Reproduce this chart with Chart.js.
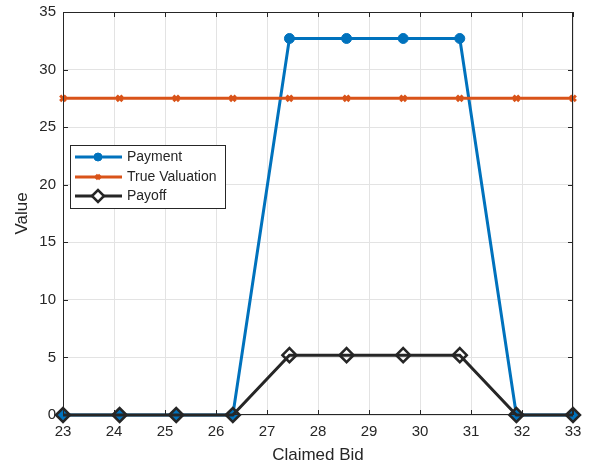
<!DOCTYPE html>
<html lang="en">
<head>
    <meta charset="UTF-8">
    <title>Claimed Bid vs Value</title>
    <script src="https://cdn.jsdelivr.net/npm/chart.js@4.4.0/dist/chart.umd.min.js"></script>
    <style>
        body {
            margin: 0;
            background: #ffffff;
        }
        #wrap {
            width: 592px;
            height: 468px;
        }
    </style>
</head>
<body>
    <div id="wrap">
        <canvas id="bidChart" width="592" height="468"></canvas>
    </div>
    <script>
        // data
        var bids = [23, 24.11, 25.22, 26.33, 27.44, 28.56, 29.67, 30.78, 31.89, 33];
        var payment = [0, 0, 0, 0, 32.7, 32.7, 32.7, 32.7, 0, 0];
        var valuation = [27.5, 27.5, 27.5, 27.5, 27.5, 27.5, 27.5, 27.5, 27.5, 27.5];
        var payoff = [0, 0, 0, 0, 5.2, 5.2, 5.2, 5.2, 0, 0];
        var xTicks = [23, 24, 25, 26, 27, 28, 29, 30, 31, 32, 33];
        var yTicks = [0, 5, 10, 15, 20, 25, 30, 35];

        var axisColor = '#262626';
        var fontFamily = '"Liberation Sans", Arial, sans-serif';

        function pts(ys) {
            return bids.map(function (b, i) { return { x: b, y: ys[i] }; });
        }

        // box around the axes, inward ticks, and the legend
        var matlabBox = {
            id: 'matlabBox',
            afterDraw: function (chart) {
                var ctx = chart.ctx;
                var a = chart.chartArea;
                var xs = chart.scales.x, ys = chart.scales.y;
                ctx.save();
                ctx.strokeStyle = axisColor;
                ctx.lineWidth = 1;
                ctx.strokeRect(a.left + 0.5, a.top + 0.5, a.right - a.left - 1, a.bottom - a.top - 1);
                ctx.beginPath();
                xTicks.forEach(function (t) {
                    var px = Math.round(xs.getPixelForValue(t)) + 0.5;
                    ctx.moveTo(px, a.bottom); ctx.lineTo(px, a.bottom - 5);
                    ctx.moveTo(px, a.top); ctx.lineTo(px, a.top + 5);
                });
                yTicks.forEach(function (t) {
                    var py = Math.round(ys.getPixelForValue(t)) + 0.5;
                    ctx.moveTo(a.left, py); ctx.lineTo(a.left + 5, py);
                    ctx.moveTo(a.right, py); ctx.lineTo(a.right - 5, py);
                });
                ctx.stroke();

                // legend
                var lx = 70, ly = 145, lw = 155, lh = 63;
                ctx.fillStyle = '#ffffff';
                ctx.fillRect(lx, ly, lw, lh);
                ctx.strokeRect(lx + 0.5, ly + 0.5, lw, lh);
                var rows = [157, 177, 196];
                chart.data.datasets.forEach(function (ds, i) {
                    var y = rows[i];
                    ctx.strokeStyle = ds.borderColor;
                    ctx.lineWidth = ds.borderWidth;
                    ctx.beginPath();
                    ctx.moveTo(75, y); ctx.lineTo(122, y);
                    ctx.stroke();
                    ctx.fillStyle = ds.pointBackgroundColor;
                    ctx.lineWidth = ds.pointBorderWidth;
                    if (ds.pointStyle === 'rectRot') {
                        ctx.fillStyle = '#ffffff';
                    }
                    Chart.helpers.drawPoint(ctx, {
                        pointStyle: ds.pointStyle,
                        radius: ds.pointRadius - 1,
                        borderWidth: ds.pointBorderWidth
                    }, 98, y);
                    ctx.fillStyle = axisColor;
                    ctx.font = '14px ' + fontFamily;
                    ctx.textBaseline = 'middle';
                    ctx.textAlign = 'left';
                    ctx.fillText(ds.label, 127, y);
                });
                ctx.restore();
            }
        };

        var ctx = document.getElementById('bidChart').getContext('2d');
        var bidChart = new Chart(ctx, {
            type: 'line',
            data: {
                datasets: [
                    {
                        label: 'Payment',
                        data: pts(payment),
                        borderColor: '#0072BD',
                        backgroundColor: '#0072BD',
                        pointBackgroundColor: '#0072BD',
                        borderWidth: 3,
                        pointStyle: 'circle',
                        pointRadius: 5,
                        pointBorderWidth: 1,
                        order: 2,
                        clip: false
                    },
                    {
                        label: 'True Valuation',
                        data: pts(valuation),
                        borderColor: '#D95319',
                        backgroundColor: '#D95319',
                        pointBackgroundColor: '#D95319',
                        borderWidth: 3,
                        pointStyle: 'crossRot',
                        pointRadius: 4,
                        pointBorderWidth: 3,
                        order: 1,
                        clip: false
                    },
                    {
                        label: 'Payoff',
                        data: pts(payoff),
                        borderColor: '#262626',
                        backgroundColor: 'rgba(0,0,0,0)',
                        pointBackgroundColor: 'rgba(0,0,0,0)',
                        borderWidth: 3,
                        pointStyle: 'rectRot',
                        pointRadius: 7,
                        pointBorderWidth: 2.5,
                        order: 0,
                        clip: false
                    }
                ]
            },
            options: {
                responsive: false,
                animation: false,
                layout: { padding: { left: 0, top: 12, right: 19, bottom: 0 } },
                plugins: {
                    legend: { display: false },
                    tooltip: { enabled: false }
                },
                scales: {
                    x: {
                        type: 'linear',
                        min: 23,
                        max: 33,
                        afterBuildTicks: function (s) {
                            s.ticks = xTicks.map(function (v) { return { value: v }; });
                        },
                        afterFit: function (s) {
                            s.height = 53;
                            s.paddingLeft = 0;
                            s.paddingRight = 0;
                        },
                        grid: { color: '#e3e3e3', drawTicks: false },
                        border: { display: false },
                        ticks: {
                            color: axisColor,
                            padding: 8,
                            maxRotation: 0,
                            font: { family: fontFamily, size: 15 }
                        },
                        title: {
                            display: true,
                            text: 'Claimed Bid',
                            color: axisColor,
                            padding: { top: 0, bottom: 2 },
                            font: { family: fontFamily, size: 17 }
                        }
                    },
                    y: {
                        min: 0,
                        max: 35,
                        afterBuildTicks: function (s) {
                            s.ticks = yTicks.map(function (v) { return { value: v }; });
                        },
                        afterFit: function (s) {
                            s.width = 63;
                            s.paddingTop = 0;
                            s.paddingBottom = 0;
                        },
                        grid: { color: '#e3e3e3', drawTicks: false },
                        border: { display: false },
                        ticks: {
                            color: axisColor,
                            padding: 7,
                            font: { family: fontFamily, size: 15 }
                        },
                        title: {
                            display: true,
                            text: 'Value',
                            color: axisColor,
                            padding: { top: 12, bottom: 0 },
                            font: { family: fontFamily, size: 17 }
                        }
                    }
                }
            },
            plugins: [matlabBox]
        });
    </script>
</body>
</html>
